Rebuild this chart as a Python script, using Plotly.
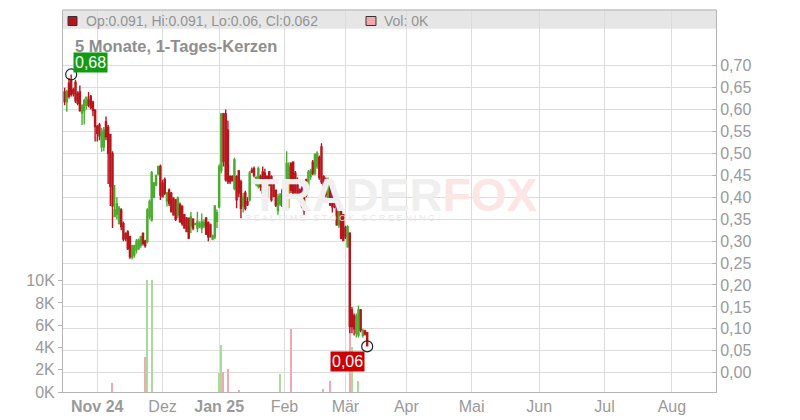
import pandas as pd
import plotly.graph_objects as go

# ---------------- data ----------------
start_date = "2024-10-17"
end_date = "2025-03-14"
no_trade_days = ["2024-12-24", "2024-12-25", "2024-12-26", "2024-12-27", "2024-12-31",
                 "2025-01-01", "2025-03-02", "2025-03-08", "2025-03-09"]

opens = [0.640, 0.618, 0.660, 0.665, 0.645, 0.662, 0.637, 0.640, 0.592, 0.598,
         0.610, 0.622, 0.630, 0.617, 0.599, 0.561, 0.565, 0.515, 0.515, 0.572,
         0.560, 0.543, 0.500, 0.356, 0.362, 0.340, 0.371, 0.340, 0.317, 0.321,
         0.310, 0.264, 0.268, 0.280, 0.283, 0.291, 0.317, 0.300, 0.299, 0.356,
         0.348, 0.400, 0.428, 0.454, 0.470, 0.432, 0.440, 0.392, 0.416, 0.409,
         0.398, 0.394, 0.360, 0.383, 0.379, 0.360, 0.352, 0.352, 0.335, 0.350,
         0.338, 0.330, 0.333, 0.330, 0.335, 0.352, 0.342, 0.337, 0.305, 0.310,
         0.345, 0.378, 0.462, 0.590, 0.590, 0.553, 0.447, 0.447, 0.420, 0.447,
         0.460, 0.435, 0.380, 0.410, 0.390, 0.394, 0.462, 0.465, 0.430, 0.425,
         0.447, 0.458, 0.455, 0.447, 0.458, 0.447, 0.430, 0.416, 0.370, 0.385,
         0.416, 0.405, 0.386, 0.400, 0.477, 0.480, 0.455, 0.440, 0.416, 0.420,
         0.412, 0.440, 0.420, 0.447, 0.480, 0.455, 0.470, 0.490, 0.515, 0.447,
         0.440, 0.394, 0.428, 0.416, 0.400, 0.394, 0.337, 0.371, 0.360, 0.330,
         0.287, 0.318, 0.143, 0.130, 0.090, 0.086, 0.143, 0.085, 0.095, 0.091]
highs = [0.650, 0.645, 0.672, 0.680, 0.650, 0.668, 0.642, 0.655, 0.612, 0.625,
         0.630, 0.640, 0.633, 0.620, 0.600, 0.565, 0.570, 0.558, 0.560, 0.584,
         0.565, 0.545, 0.505, 0.428, 0.400, 0.380, 0.375, 0.345, 0.320, 0.325,
         0.312, 0.292, 0.292, 0.305, 0.306, 0.312, 0.320, 0.303, 0.375, 0.395,
         0.460, 0.435, 0.452, 0.472, 0.475, 0.440, 0.445, 0.412, 0.420, 0.412,
         0.400, 0.396, 0.402, 0.388, 0.382, 0.362, 0.355, 0.354, 0.367, 0.352,
         0.342, 0.367, 0.345, 0.363, 0.350, 0.355, 0.345, 0.340, 0.315, 0.382,
         0.372, 0.475, 0.592, 0.592, 0.600, 0.575, 0.450, 0.450, 0.490, 0.450,
         0.462, 0.440, 0.410, 0.415, 0.400, 0.460, 0.468, 0.470, 0.448, 0.470,
         0.452, 0.470, 0.465, 0.450, 0.460, 0.450, 0.432, 0.418, 0.408, 0.410,
         0.420, 0.420, 0.505, 0.480, 0.480, 0.482, 0.460, 0.445, 0.420, 0.425,
         0.420, 0.442, 0.462, 0.465, 0.485, 0.500, 0.505, 0.495, 0.523, 0.450,
         0.445, 0.445, 0.432, 0.420, 0.402, 0.396, 0.372, 0.375, 0.362, 0.335,
         0.336, 0.320, 0.150, 0.135, 0.135, 0.153, 0.145, 0.100, 0.098, 0.091]
lows = [0.610, 0.595, 0.625, 0.630, 0.630, 0.615, 0.610, 0.595, 0.565, 0.566,
        0.600, 0.605, 0.600, 0.585, 0.527, 0.527, 0.530, 0.504, 0.505, 0.530,
        0.430, 0.380, 0.330, 0.355, 0.350, 0.338, 0.325, 0.300, 0.300, 0.280,
        0.260, 0.258, 0.262, 0.272, 0.280, 0.285, 0.290, 0.285, 0.295, 0.350,
        0.345, 0.398, 0.425, 0.450, 0.394, 0.400, 0.405, 0.379, 0.380, 0.365,
        0.358, 0.346, 0.352, 0.342, 0.335, 0.328, 0.320, 0.305, 0.318, 0.325,
        0.336, 0.320, 0.330, 0.318, 0.330, 0.314, 0.300, 0.308, 0.302, 0.305,
        0.330, 0.375, 0.455, 0.470, 0.436, 0.430, 0.430, 0.436, 0.416, 0.375,
        0.400, 0.352, 0.365, 0.370, 0.380, 0.390, 0.455, 0.445, 0.425, 0.420,
        0.415, 0.405, 0.410, 0.400, 0.425, 0.390, 0.400, 0.378, 0.360, 0.380,
        0.378, 0.400, 0.380, 0.375, 0.410, 0.400, 0.408, 0.395, 0.390, 0.375,
        0.360, 0.400, 0.415, 0.440, 0.450, 0.450, 0.465, 0.440, 0.430, 0.405,
        0.400, 0.390, 0.380, 0.365, 0.375, 0.335, 0.330, 0.305, 0.300, 0.305,
        0.285, 0.090, 0.090, 0.085, 0.080, 0.080, 0.092, 0.080, 0.085, 0.060]
closes = [0.618, 0.640, 0.630, 0.635, 0.637, 0.620, 0.614, 0.598, 0.608, 0.620,
          0.628, 0.610, 0.605, 0.598, 0.561, 0.546, 0.540, 0.550, 0.553, 0.538,
          0.500, 0.425, 0.380, 0.371, 0.385, 0.375, 0.333, 0.305, 0.306, 0.283,
          0.264, 0.289, 0.289, 0.300, 0.302, 0.310, 0.295, 0.290, 0.371, 0.390,
          0.456, 0.432, 0.450, 0.470, 0.405, 0.401, 0.409, 0.410, 0.386, 0.367,
          0.360, 0.350, 0.398, 0.344, 0.340, 0.330, 0.322, 0.307, 0.355, 0.330,
          0.340, 0.345, 0.340, 0.345, 0.342, 0.316, 0.310, 0.310, 0.312, 0.380,
          0.365, 0.470, 0.590, 0.482, 0.440, 0.436, 0.436, 0.438, 0.485, 0.394,
          0.410, 0.375, 0.400, 0.375, 0.383, 0.455, 0.458, 0.450, 0.445, 0.465,
          0.424, 0.409, 0.415, 0.401, 0.428, 0.394, 0.402, 0.382, 0.401, 0.405,
          0.380, 0.416, 0.477, 0.470, 0.416, 0.405, 0.410, 0.400, 0.395, 0.380,
          0.370, 0.405, 0.458, 0.460, 0.455, 0.498, 0.500, 0.445, 0.435, 0.409,
          0.405, 0.440, 0.382, 0.378, 0.378, 0.337, 0.371, 0.307, 0.302, 0.310,
          0.333, 0.105, 0.105, 0.100, 0.128, 0.143, 0.097, 0.095, 0.088, 0.062]

vol_dates = ["2024-11-08", "2024-11-23", "2024-11-24", "2024-11-26", "2025-01-02",
             "2025-01-03", "2025-01-04", "2025-01-06", "2025-01-11", "2025-01-30",
             "2025-02-04", "2025-02-19", "2025-02-22", "2025-03-04", "2025-03-05",
             "2025-03-10"]
vol_values = [800, 3100, 10100, 10100, 1700, 4200, 1800, 2100, 200, 1600,
              5700, 300, 1000, 8000, 4000, 1000]
vol_up = [False, False, True, True, True, True, False, False, False, True,
          False, False, False, False, True, True]
last_volume = 0

month_starts = ["2024-11-01", "2024-12-01", "2025-01-01", "2025-02-01", "2025-03-01",
                "2025-04-01", "2025-05-01", "2025-06-01", "2025-07-01", "2025-08-01"]
month_labels = ["<b>Nov 24</b>", "Dez", "<b>Jan 25</b>", "Feb", "Mär",
                "Apr", "Mai", "Jun", "Jul", "Aug"]
price_ticks = [0.00, 0.05, 0.10, 0.15, 0.20, 0.25, 0.30, 0.35,
               0.40, 0.45, 0.50, 0.55, 0.60, 0.65, 0.70]
vol_ticks = [0, 2000, 4000, 6000, 8000, 10000]
vol_ticktext = ["0K", "2K", "4K", "6K", "8K", "10K"]

title_text = "5 Monate, 1-Tages-Kerzen"

# ---------------- styling ----------------
GREEN = "#4aab2e"
RED = "#b8141b"
VGREEN = "#a9dc9c"
VRED = "#f2a8af"
GRID = "#dcdcdc"
AXIS = "#b4b4b4"
TXT = "#9a9a9a"
FONT = "Liberation Sans, Arial, sans-serif"

dates = [d for d in pd.date_range(start_date, end_date)
         if d.strftime("%Y-%m-%d") not in no_trade_days]

def shift_off_gap(s):
    d = pd.Timestamp(s)
    while d.strftime("%Y-%m-%d") in no_trade_days:
        d += pd.Timedelta(days=1)
    return d

tickvals = [shift_off_gap(s) for s in month_starts]

fig = go.Figure()

fig.add_trace(go.Bar(
    x=pd.to_datetime(vol_dates), y=vol_values, yaxis="y",
    marker=dict(color=[VGREEN if u else VRED for u in vol_up], line=dict(width=0)),
    width=0.62 * 86400000, showlegend=False, hoverinfo="skip"))

fig.add_trace(go.Candlestick(
    x=dates, open=opens, high=highs, low=lows, close=closes, yaxis="y2",
    increasing=dict(line=dict(color=GREEN, width=1.4), fillcolor=GREEN),
    decreasing=dict(line=dict(color=RED, width=1.4), fillcolor=RED),
    whiskerwidth=0, showlegend=False))

imax = highs.index(max(highs))
imin = lows.index(min(lows))
fig.add_trace(go.Scatter(
    x=[dates[imax], dates[imin]], y=[highs[imax], lows[imin]], yaxis="y2",
    mode="markers", showlegend=False, hoverinfo="skip",
    marker=dict(symbol="circle-open", size=11, color="#222222", line=dict(width=1.2))))

def de(v):
    return f"{v:.2f}".replace(".", ",")

annotations = [
    dict(x=dates[imax], y=highs[imax], xref="x", yref="y2", text=de(highs[imax]),
         showarrow=False, xanchor="center", yanchor="bottom", xshift=19, yshift=1,
         bgcolor="#129a12", borderpad=1, font=dict(color="white", size=16, family=FONT)),
    dict(x=dates[imin], y=lows[imin], xref="x", yref="y2", text=de(lows[imin]),
         showarrow=False, xanchor="center", yanchor="top", xshift=-20, yshift=-5,
         bgcolor="#cc0000", borderpad=1, font=dict(color="white", size=16, family=FONT)),
    dict(x=0.0153, y=0.905, xref="paper", yref="paper", text=f"<b>{title_text}</b>",
         showarrow=False, xanchor="left", yanchor="middle",
         font=dict(color="#8e8e8e", size=16.5, family=FONT)),
    dict(x=0.032, y=0.972, xref="paper", yref="paper",
         text=f"Op:{opens[-1]:g}, Hi:{highs[-1]:g}, Lo:{lows[-1]:g}, Cl:{closes[-1]:g}",
         showarrow=False, xanchor="left", yanchor="middle",
         font=dict(color="#939393", size=14, family=FONT)),
    dict(x=0.4885, y=0.972, xref="paper", yref="paper",
         text=f"Vol: {last_volume // 1000}K",
         showarrow=False, xanchor="left", yanchor="middle",
         font=dict(color="#939393", size=14, family=FONT)),
    dict(x=0.508, y=0.516, xref="paper", yref="paper",
         text="<b><span style='color:#efefef'>TRADER</span><span style='color:#fbe5e5'>FOX</span></b>",
         showarrow=False, xanchor="center", yanchor="middle",
         font=dict(size=46, family=FONT, color="#efefef")),
    dict(x=0.424, y=0.455, xref="paper", yref="paper",
         text="R E A L T I M E   S T O C K   S C R E E N I N G",
         showarrow=False, xanchor="center", yanchor="middle",
         font=dict(size=9, family=FONT, color="#e8e8e8")),
]

shapes = [
    dict(type="rect", xref="paper", yref="paper", x0=0, x1=1, y0=0.951, y1=1,
         fillcolor="#e6e6e6", line=dict(width=0), layer="below"),
    dict(type="line", xref="paper", yref="paper", x0=0, x1=1, y0=1, y1=1,
         line=dict(color="#c4c4c4", width=1.5)),
    dict(type="rect", xref="paper", yref="paper", x0=0.0077, x1=0.0214, y0=0.9594, y1=0.983,
         fillcolor=RED, line=dict(color="#333333", width=1)),
    dict(type="rect", xref="paper", yref="paper", x0=0.464, x1=0.4793, y0=0.9594, y1=0.983,
         fillcolor=VRED, line=dict(color="#333333", width=1)),
]

# the page body adds an 8px offset, so the figure is 792x412 with shifted margins
fig.update_layout(
    width=792, height=412,
    margin=dict(l=55, r=84, t=2, b=28, pad=0, autoexpand=False),
    paper_bgcolor="white", plot_bgcolor="white",
    separators=",.",
    font=dict(family=FONT, color=TXT),
    bargap=0,
    xaxis=dict(
        type="date", range=["2024-10-16 06:00", "2025-08-21 06:00"],
        rangebreaks=[dict(values=no_trade_days)],
        rangeslider=dict(visible=False),
        tickvals=tickvals, ticktext=month_labels, automargin=False,
        showgrid=True, gridcolor=GRID, gridwidth=1,
        showline=True, linecolor=AXIS, linewidth=1,
        ticks="", tickfont=dict(size=16, color=TXT), zeroline=False),
    yaxis=dict(
        side="left", range=[0, 34300], tickvals=vol_ticks, ticktext=vol_ticktext,
        showgrid=False, zeroline=False, showline=True, linecolor=AXIS, linewidth=1,
        ticks="outside", ticklen=4, tickcolor=AXIS, automargin=False,
        tickfont=dict(size=16, color=TXT)),
    yaxis2=dict(
        side="right", overlaying="y", range=[-0.044, 0.827],
        tickvals=price_ticks, tickformat=".2f", automargin=False,
        showgrid=True, gridcolor=GRID, gridwidth=1, zeroline=False,
        showline=True, linecolor=AXIS, linewidth=1,
        ticks="inside", ticklen=4, tickcolor=AXIS,
        tickfont=dict(size=16, color=TXT)),
    annotations=annotations,
    shapes=shapes,
)

fig.write_html("out.html")
